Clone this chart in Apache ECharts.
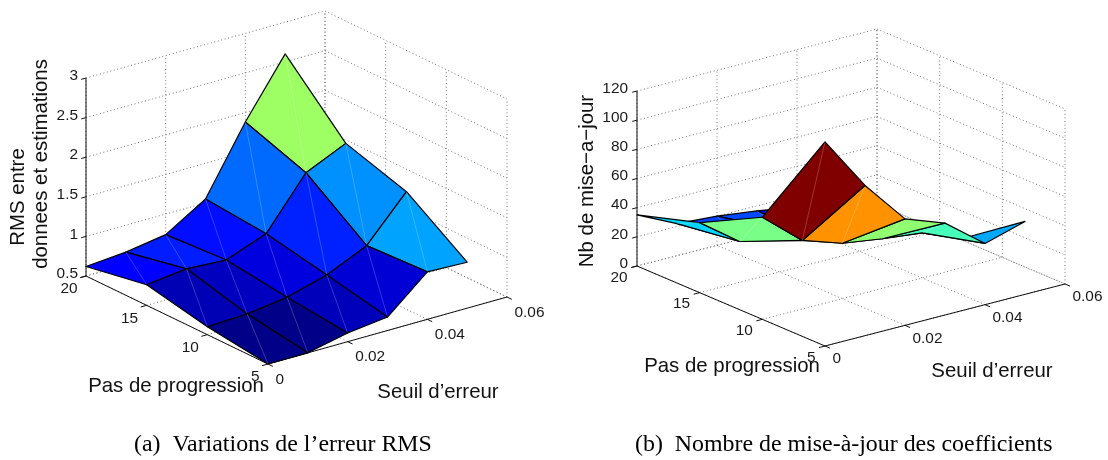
<!DOCTYPE html>
<html>
<head>
<meta charset="utf-8">
<title>Variations RMS / mise-a-jour</title>
<style>
  html, body { margin: 0; padding: 0; background: #fff; }
  #main { width: 1108px; height: 460px; }
</style>
<script src="https://cdn.jsdelivr.net/npm/echarts@6/dist/echarts.min.js"></script>
</head>
<body>
<div id="main"></div>
<script>
// grille commune aux deux surfaces
var seuilValues = [0, 0.01, 0.02, 0.03, 0.04, 0.05];
var pasValues = [5, 10, 15, 20];

// une ligne par pas de progression, une colonne par seuil
var rmsPas5 = [0.5, 0.5, 0.61, 0.67, 1.1, 1.08];
var rmsPas10 = [0.6, 0.62, 0.69, 0.83, 1.06, 1.6];
var rmsPas15 = [0.76, 0.82, 0.79, 0.98, 1.61, 1.84];
var rmsPas20 = [0.62, 0.66, 0.74, 1.05, 1.88, 2.6];

var majPas5 = [140, 103, 73, 63, 42, 50];
var majPas10 = [70, 47, 38, 34, 31, 20];
var majPas15 = [48, 28, 29, 17, 14, 14];
var majPas20 = [35, 22, 20, 16.5, 12, 2];

// graduations
var seuilTicks = [0, 0.02, 0.04, 0.06];
var pasTicks = [5, 10, 15, 20];
var rmsTicks = [0.5, 1, 1.5, 2, 2.5, 3];
var majTicks = [0, 20, 40, 60, 80, 100, 120];

// colormap jet
var jetColors = ['#000088', '#0000ff', '#0080ff', '#00ffff', '#80ff80', '#ffff00', '#ff8000', '#ff0000', '#800000'];

var FONT = '"Liberation Sans", Arial, sans-serif';
var TICK_FONT = '15.4px ' + FONT;

var panelA = {
    rows: [rmsPas5, rmsPas10, rmsPas15, rmsPas20],
    zTicks: rmsTicks,
    origin: [268, 364],     // coin avant au sol (seuil 0, pas 5)
    sVec: [239, -67],       // seuil 0 -> 0.06
    pVec: [-182, -88],      // pas 5 -> 20
    zLen: 198,              // hauteur de l'axe vertical
    pLabel: [-8.5, 13],
    sLabel: [7.5, 15.5],
    zLabel: [-8, -2]
};
var panelB = {
    rows: [majPas5, majPas10, majPas15, majPas20],
    zTicks: majTicks,
    origin: [825, 346],
    sVec: [240, -62],
    pVec: [-188, -80],
    zLen: 175,
    pLabel: [-9.5, 11.5],
    sLabel: [7.5, 13],
    zLabel: [-9, -2.5]
};

// projection parallele (seuil, pas, z) -> repere du plan
function project(panel, s, p, z) {
    var zt = panel.zTicks;
    var a = s / 0.06;
    var b = (p - 5) / 15;
    var c = (z - zt[0]) / (zt[zt.length - 1] - zt[0]);
    return [
        panel.origin[0] + a * panel.sVec[0] + b * panel.pVec[0],
        panel.origin[1] + a * panel.sVec[1] + b * panel.pVec[1] - c * panel.zLen
    ];
}

// segments du cadre : [s1, p1, z1, s2, p2, z2, type]
function buildFrame(panel) {
    var out = [];
    var zt = panel.zTicks;
    var zMin = zt[0], zMax = zt[zt.length - 1];
    var sMax = 0.06, pMin = 5, pMax = 20;

    // quadrillage des parois et du sol
    zt.forEach(function (z) {
        out.push([0, pMax, z, sMax, pMax, z, 0]);
        out.push([sMax, pMax, z, sMax, pMin, z, 0]);
    });
    seuilTicks.forEach(function (s) {
        out.push([s, pMax, zMin, s, pMax, zMax, 0]);
        out.push([s, pMin, zMin, s, pMax, zMin, 0]);
    });
    pasTicks.forEach(function (p) {
        out.push([sMax, p, zMin, sMax, p, zMax, 0]);
        out.push([0, p, zMin, sMax, p, zMin, 0]);
    });

    // axes noirs
    out.push([0, pMax, zMin, 0, pMax, zMax, 1]);
    out.push([0, pMin, zMin, 0, pMax, zMin, 1]);
    out.push([0, pMin, zMin, sMax, pMin, zMin, 1]);

    // petites graduations
    zt.forEach(function (z) {
        out.push([0, pMax, z, -0.0012, pMax, z, 1]);
    });
    pasTicks.forEach(function (p) {
        out.push([0, p, zMin, -0.0015, p, zMin, 1]);
    });
    seuilTicks.forEach(function (s) {
        out.push([s, pMin, zMin, s, pMin - 0.4, zMin, 1]);
    });
    return out;
}

function frameSeries(panel) {
    return {
        type: 'custom',
        coordinateSystem: 'cartesian2d',
        silent: true,
        z: 1,
        data: buildFrame(panel),
        renderItem: function (params, api) {
            var p1 = project(panel, api.value(0), api.value(1), api.value(2));
            var p2 = project(panel, api.value(3), api.value(4), api.value(5));
            var a = api.coord(p1), b = api.coord(p2);
            var isAxis = api.value(6) === 1;
            return {
                type: 'line',
                shape: { x1: a[0], y1: a[1], x2: b[0], y2: b[1] },
                style: isAxis
                    ? { stroke: '#111', lineWidth: 1 }
                    : { stroke: '#777', lineWidth: 1, lineDash: [1, 2.6] }
            };
        }
    };
}

// une facette : [indice seuil, indice pas, valeur de couleur], du fond vers l'avant
function buildCells(panel) {
    var cells = [];
    for (var j = pasValues.length - 2; j >= 0; j--) {
        for (var i = seuilValues.length - 2; i >= 0; i--) {
            cells.push([i, j, panel.rows[j][i]]);
        }
    }
    return cells;
}

function surfaceSeries(panel) {
    return {
        type: 'custom',
        coordinateSystem: 'cartesian2d',
        silent: true,
        z: 2,
        data: buildCells(panel),
        renderItem: function (params, api) {
            var i = api.value(0), j = api.value(1);
            function corner(ci, cj) {
                return api.coord(project(panel, seuilValues[ci], pasValues[cj], panel.rows[cj][ci]));
            }
            var c00 = corner(i, j), c10 = corner(i + 1, j), c11 = corner(i + 1, j + 1), c01 = corner(i, j + 1);
            return {
                type: 'group',
                children: [{
                    type: 'polygon',
                    z2: params.dataIndex * 2,
                    shape: { points: [c00, c10, c11, c01] },
                    style: { fill: api.visual('color'), stroke: '#000', lineWidth: 1.2, lineJoin: 'round' }
                }, {
                    type: 'line',
                    z2: params.dataIndex * 2 + 1,
                    shape: { x1: c00[0], y1: c00[1], x2: c11[0], y2: c11[1] },
                    style: { stroke: 'rgba(255,255,255,0.3)', lineWidth: 0.7 }
                }]
            };
        }
    };
}

// libelles des graduations : [s, p, z, decalage x, decalage y, alignement, texte]
function buildLabels(panel) {
    var out = [];
    var zt = panel.zTicks;
    zt.forEach(function (z) {
        out.push([0, 20, z, panel.zLabel[0], panel.zLabel[1], 'right', String(z)]);
    });
    pasTicks.forEach(function (p) {
        out.push([0, p, zt[0], panel.pLabel[0], panel.pLabel[1], 'right', String(p)]);
    });
    seuilTicks.forEach(function (s) {
        out.push([s, 5, zt[0], panel.sLabel[0], panel.sLabel[1], 'left', String(s)]);
    });
    return out;
}

function labelSeries(panel) {
    return {
        type: 'custom',
        coordinateSystem: 'cartesian2d',
        silent: true,
        z: 3,
        data: buildLabels(panel),
        renderItem: function (params, api) {
            var row = buildLabels(panel)[params.dataIndex];
            var pos = api.coord(project(panel, row[0], row[1], row[2]));
            return {
                type: 'text',
                style: {
                    x: pos[0] + row[3],
                    y: pos[1] + row[4],
                    text: row[6],
                    font: TICK_FONT,
                    fill: '#1a1a1a',
                    textAlign: row[5],
                    textVerticalAlign: 'middle'
                }
            };
        }
    };
}

function axisTitle(text, x, y, rotated) {
    return {
        type: 'text',
        x: x,
        y: y,
        rotation: rotated ? Math.PI / 2 : 0,
        style: {
            text: text,
            font: '20.4px ' + FONT,
            fill: '#111',
            textAlign: 'center',
            textVerticalAlign: 'middle'
        }
    };
}

function flat(rows) {
    return rows.reduce(function (acc, r) { return acc.concat(r); }, []);
}

var myChart = echarts.init(document.getElementById('main'));
myChart.setOption({
    backgroundColor: '#fff',
    animation: false,
    grid: { left: 0, right: 0, top: 0, bottom: 0 },
    xAxis: { type: 'value', min: 0, max: 1108, show: false },
    yAxis: { type: 'value', min: 0, max: 460, inverse: true, show: false },
    title: [
        {
            text: '(a)  Variations de l\u2019erreur RMS',
            left: 129, top: 428,
            textStyle: { fontFamily: '"Liberation Serif", serif', fontSize: 23.9, fontWeight: 'normal', color: '#000' }
        },
        {
            text: '(b)  Nombre de mise-\u00e0-jour des coefficients',
            left: 630, top: 428,
            textStyle: { fontFamily: '"Liberation Serif", serif', fontSize: 23.9, fontWeight: 'normal', color: '#000' }
        }
    ],
    visualMap: [
        {
            show: false, seriesIndex: 1, dimension: 2,
            min: Math.min.apply(null, flat(panelA.rows)), max: Math.max.apply(null, flat(panelA.rows)),
            inRange: { color: jetColors }
        },
        {
            show: false, seriesIndex: 4, dimension: 2,
            min: Math.min.apply(null, flat(panelB.rows)), max: Math.max.apply(null, flat(panelB.rows)),
            inRange: { color: jetColors }
        }
    ],
    graphic: {
        elements: [
            axisTitle('RMS entre', 18, 197, true),
            axisTitle('donnees et estimations', 41, 164, true),
            axisTitle('Pas de progression', 176, 386, false),
            axisTitle('Seuil d\u2019erreur', 438, 392, false),
            axisTitle('Nb de mise\u2212a\u2212jour', 587, 181, true),
            axisTitle('Pas de progression', 732, 366, false),
            axisTitle('Seuil d\u2019erreur', 992, 371, false)
        ]
    },
    series: [
        frameSeries(panelA), surfaceSeries(panelA), labelSeries(panelA),
        frameSeries(panelB), surfaceSeries(panelB), labelSeries(panelB)
    ]
});

window.addEventListener('resize', function () {
    myChart.resize();
});
</script>
</body>
</html>
